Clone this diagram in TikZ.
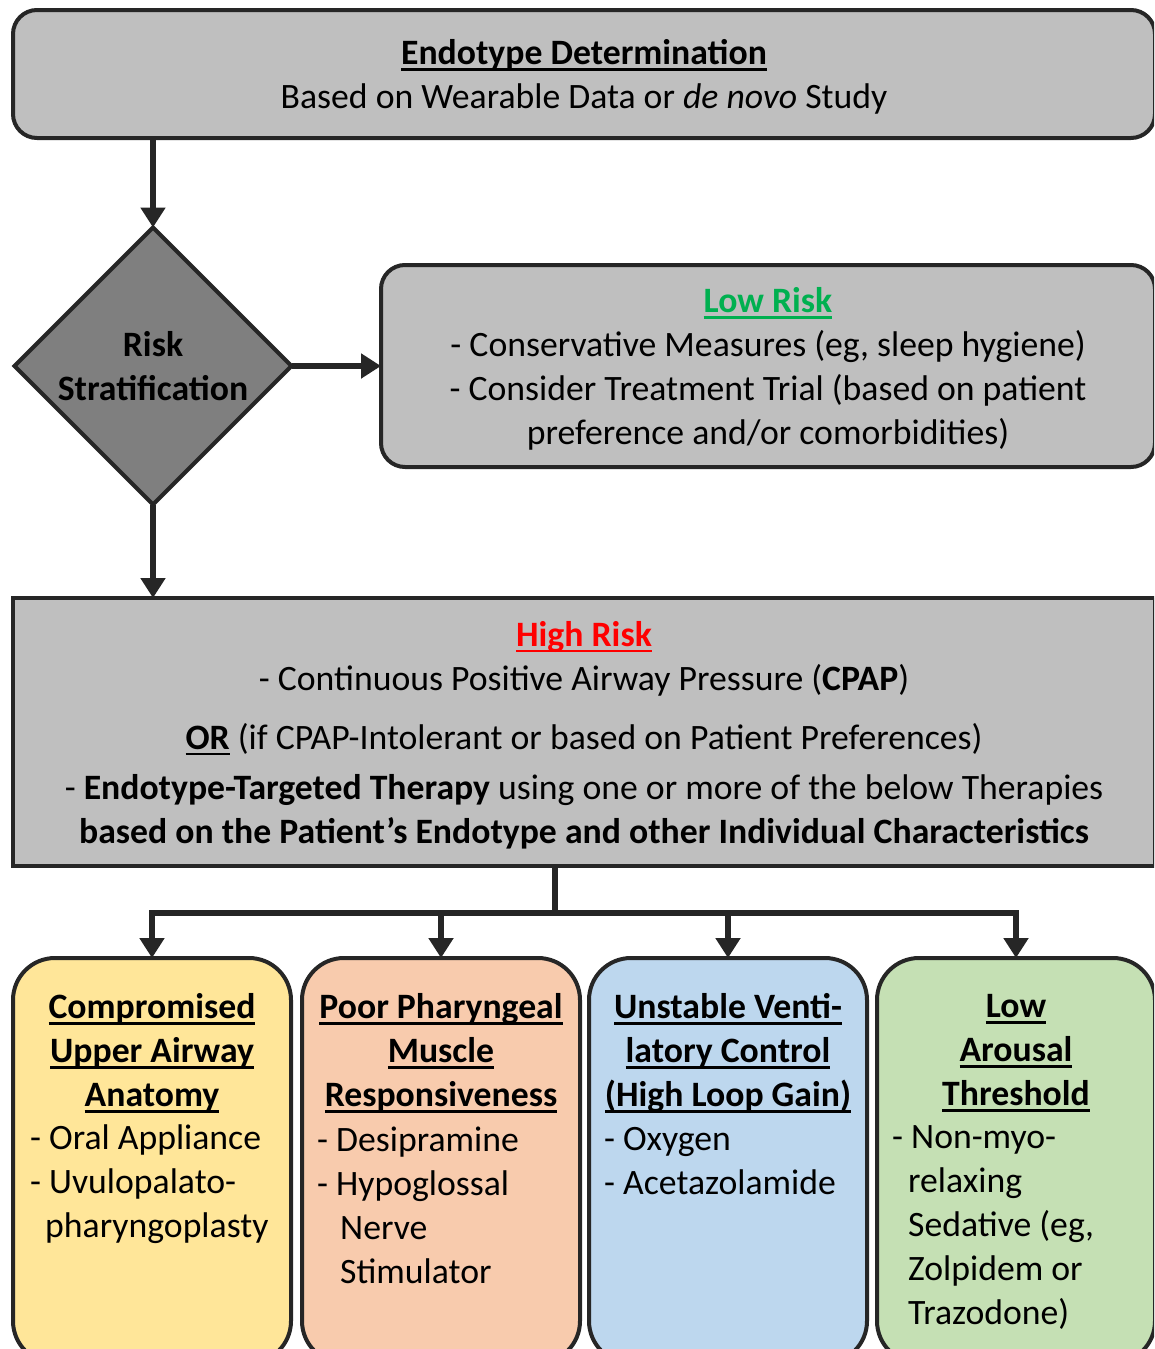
\documentclass[tikz,border=0pt]{standalone}
\usepackage{fontspec}
\setmainfont{Carlito}
\usetikzlibrary{positioning,shapes.geometric,arrows.meta}

\definecolor{edge}{HTML}{262626}
\definecolor{boxgray}{HTML}{BFBFBF}
\definecolor{diagray}{HTML}{7F7F7F}
\definecolor{lowgreen}{HTML}{00B050}
\definecolor{highred}{HTML}{FF0000}
\definecolor{anatyellow}{HTML}{FFE699}
\definecolor{musclepeach}{HTML}{F8CBAD}
\definecolor{ventblue}{HTML}{BDD7EE}
\definecolor{arousgreen}{HTML}{C5E0B4}

\newcommand{\fsz}{\fontsize{35.7pt}{44pt}\selectfont}
\newcommand{\undl}[1]{\leavevmode\setbox0=\hbox{#1}\rlap{\rule[-6pt]{\wd0}{2.6pt}}\box0\relax}

\tikzset{
  boxbase/.style={draw=edge, line width=4pt, inner sep=0pt, outer sep=0pt, anchor=north west},
  graybox/.style={boxbase, fill=boxgray, rounded corners=24pt},
  endobox/.style={boxbase, rounded corners=42pt, minimum width=278pt, minimum height=405pt},
  riskdia/.style={diamond, aspect=1, draw=edge, line width=4pt, fill=diagray, inner sep=0pt, outer sep=0pt, minimum width=277pt, minimum height=277pt},
  txt/.style={font=\fsz, align=center, inner sep=0pt},
  head/.style={txt, font=\fsz\bfseries},
  items/.style={font=\fsz, align=left, inner sep=0pt, anchor=west},
  flow/.style={draw=edge, line width=6pt, line join=miter, -{Triangle[length=20pt,width=24pt]}},
  bar/.style={draw=edge, line width=6pt}
}

\begin{document}
\begin{tikzpicture}[x=1pt, y=-1pt]

\useasboundingbox (0,0) rectangle (1154,1349);
\clip (0,0) rectangle (1154,1349);

% top box
\node[graybox, minimum width=1142pt, minimum height=128pt] (endo) at (13,10) {};
\node[txt] (endotxt) at ([yshift=-3pt]endo) {\textbf{\undl{Endotype Determination}}\\Based on Wearable Data or \textit{de novo} Study};

% risk decision
\node[riskdia] (risk) at (153,366) {};
\node[head] (risktxt) at (risk) {Risk\\Stratification};

\node[graybox, minimum width=774pt, minimum height=202pt] (low) at (381,265) {};
\node[txt] (lowtxt) at ([yshift=-3pt]low) {{\color{lowgreen}\bfseries\undl{Low Risk}}\\
  - Conservative Measures (eg, sleep hygiene)\\
  - Consider Treatment Trial (based on patient\\
  preference and/or comorbidities)};

\node[boxbase, fill=boxgray, minimum width=1142pt, minimum height=268pt] (high) at (13,598) {};
\node[txt] (hightxt) at ([yshift=-3pt]high) {{\color{highred}\bfseries\undl{High Risk}}\\
  - Continuous Positive Airway Pressure (\textbf{CPAP})\\[15pt]
  \undl{\textbf{OR}} (if CPAP-Intolerant or based on Patient Preferences)\\[6pt]
  - \textbf{Endotype-Targeted Therapy} using one or more of the below Therapies\\
  \textbf{based on the Patient’s Endotype and other Individual Characteristics}};

% endotype boxes
\node[endobox, fill=anatyellow] (c1) at (13,958) {};
\node[endobox, fill=musclepeach] (c2) at (302,958) {};
\node[endobox, fill=ventblue] (c3) at (589,958) {};
\node[endobox, fill=arousgreen] (c4) at (877,958) {};

\node[head] (c1h) at (152,1053) {\undl{Compromised}\\\undl{Upper Airway}\\\undl{Anatomy}};
\node[head] (c2h) at (441,1053) {\undl{Poor Pharyngeal}\\\undl{Muscle}\\\undl{Responsiveness}};
\node[head] (c3h) at (728,1053) {\undl{Unstable Venti-}\\\undl{latory Control}\\\undl{(High Loop Gain)}};
\node[head] (c4h) at (1016,1053) {\undl{Low}\\\undl{Arousal}\\\undl{Threshold}};

\node[items] (c1i) at (30,1184) {- Oral Appliance\\- Uvulopalato-\\\hspace*{15pt}pharyngoplasty};
\node[items] (c2i) at (317,1205) {- Desipramine\\- Hypoglossal\\\hspace*{23pt}Nerve\\\hspace*{23pt}Stimulator};
\node[items] (c3i) at (604,1161) {- Oxygen\\- Acetazolamide};
\node[items] (c4i) at (892,1228) {- Non-myo-\\\hspace*{16pt}relaxing\\\hspace*{16pt}Sedative (eg,\\\hspace*{16pt}Zolpidem or\\\hspace*{16pt}Trazodone)};

% connectors
\draw[flow] (endo.south -| risk) -- (risk.north);
\draw[flow] (risk.east) -- (low.west);
\draw[flow] (risk.south) -- (high.north -| risk);

\coordinate (bus) at (555,913);
\draw[bar] (high.south -| bus) -- (bus);
\draw[flow] (bus) -| (c1.north);
\draw[flow] (bus) -| (c4.north);
\draw[flow] (c2.north |- bus) -- (c2.north);
\draw[flow] (c3.north |- bus) -- (c3.north);

\end{tikzpicture}
\end{document}
